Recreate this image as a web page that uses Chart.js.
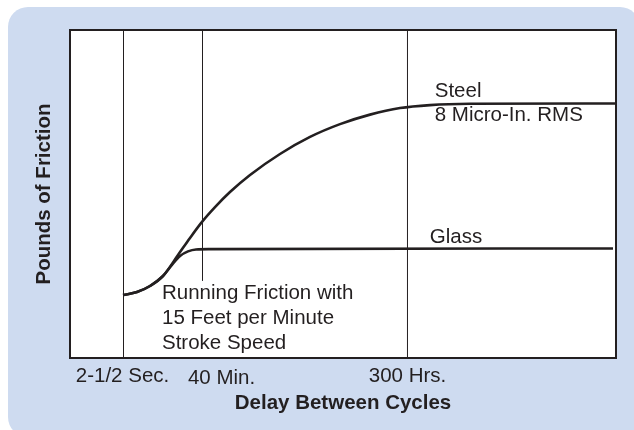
<!DOCTYPE html>
<html>
<head>
<meta charset="utf-8">
<script src="https://cdn.jsdelivr.net/npm/chart.js@4.4.1/dist/chart.umd.min.js"></script>
<style>
  html, body { margin: 0; padding: 0; background: #fff; }
  #wrap { position: relative; width: 634px; height: 430px; overflow: hidden; }
  #panel {
    position: absolute; left: 8px; top: 7px; width: 632px; height: 430px;
    background: #cedbf0; border-radius: 20px;
  }
  #frictionChart { position: absolute; left: 0; top: 0; }
</style>
</head>
<body>
<div id="wrap">
  <div id="panel"></div>
  <canvas id="frictionChart" width="634" height="430"></canvas>
</div>
<script>
// delay axis runs 0..100, friction axis 0..100 (relative units)
const cycleLabels = ['2-1/2 Sec.', '40 Min.', '300 Hrs.'];
const cyclePositions = [9.8, 24.27, 61.81];
const markerFrom = [0, 23.5, 0];
const markerTo = [100, 100, 100];

const steelX = [9.71, 12.27, 14.65, 17.03, 19.78, 21.98, 24.18, 26.56, 29.3, 32.97, 38.46, 43.96, 49.45, 54.95, 60.44, 65.93, 73.26, 100];
const steelY = [19.2, 20.1, 21.95, 25.0, 31.4, 36.6, 41.5, 46.0, 50.6, 55.8, 62.2, 67.4, 71.3, 74.2, 76.2, 77.1, 77.5, 77.6];

const glassX = [9.71, 12.27, 14.65, 17.03, 18.68, 20.15, 21.61, 23.08, 25.64, 99.45];
const glassY = [19.2, 20.1, 21.95, 25.0, 28.4, 31.1, 32.5, 33.1, 33.2, 33.4];

const INK = '#231f20';
const FONT = "'Liberation Sans', Arial, Helvetica, sans-serif";

function toPoints(xs, ys) {
    return xs.map((x, i) => ({x: x, y: ys[i]}));
}

// one thin vertical rule per delay marker
const markerSets = cyclePositions.map((x, i) => ({
    label: cycleLabels[i],
    data: [{x: x, y: markerFrom[i]}, {x: x, y: markerTo[i]}],
    borderColor: INK,
    borderWidth: 1,
    pointRadius: 0,
    tension: 0
}));

// curve captions, placed in axis units
const notes = [
    {text: 'Steel', x: 66.8, y: 81.4},
    {text: '8 Micro-In. RMS', x: 66.8, y: 74.1},
    {text: 'Glass', x: 65.9, y: 36.9},
    {text: 'Running Friction with', x: 16.85, y: 19.8},
    {text: '15 Feet per Minute', x: 16.85, y: 12.2},
    {text: 'Stroke Speed', x: 16.85, y: 4.6}
];
const tickNudge = [-1, 19, 0];

const plotFrame = {
    id: 'plotFrame',
    beforeDatasetsDraw(chart) {
        const {ctx, chartArea: a} = chart;
        ctx.save();
        ctx.fillStyle = '#fff';
        ctx.fillRect(a.left, a.top, a.width, a.height);
        ctx.restore();
    },
    afterDraw(chart) {
        const {ctx, chartArea: a, scales} = chart;
        ctx.save();
        ctx.strokeStyle = INK;
        ctx.lineWidth = 2;
        ctx.strokeRect(a.left, a.top, a.width, a.height);

        ctx.fillStyle = INK;
        ctx.font = '20.5px ' + FONT;
        ctx.textBaseline = 'middle';
        ctx.textAlign = 'left';
        notes.forEach(n => {
            ctx.fillText(n.text, scales.x.getPixelForValue(n.x), scales.y.getPixelForValue(n.y));
        });

        ctx.textAlign = 'center';
        cycleLabels.forEach((lbl, i) => {
            const px = scales.x.getPixelForValue(cyclePositions[i]) + tickNudge[i];
            ctx.fillText(lbl, px, a.bottom + 18 + (i === 1 ? 2 : 0));
        });
        ctx.restore();
    }
};

new Chart(document.getElementById('frictionChart'), {
    type: 'line',
    data: {
        datasets: [
            ...markerSets,
            {
                label: 'Steel',
                data: toPoints(steelX, steelY),
                borderColor: INK,
                borderWidth: 2.6,
                pointRadius: 0,
                cubicInterpolationMode: 'monotone'
            },
            {
                label: 'Glass',
                data: toPoints(glassX, glassY),
                borderColor: INK,
                borderWidth: 2.6,
                pointRadius: 0,
                cubicInterpolationMode: 'monotone'
            }
        ]
    },
    options: {
        responsive: false,
        animation: false,
        devicePixelRatio: 1,
        layout: {
            padding: {left: 20, top: 30, right: 18, bottom: 10}
        },
        scales: {
            x: {
                type: 'linear',
                min: 0,
                max: 100,
                grid: {display: false, drawTicks: false},
                border: {display: false},
                ticks: {display: false},
                title: {
                    display: true,
                    text: 'Delay Between Cycles',
                    color: INK,
                    font: {family: FONT, size: 20.5, weight: 'bold', lineHeight: '24px'},
                    padding: {top: 33, bottom: 5}
                }
            },
            y: {
                type: 'linear',
                min: 0,
                max: 100,
                grid: {display: false, drawTicks: false},
                border: {display: false},
                ticks: {display: false},
                title: {
                    display: true,
                    text: 'Pounds of Friction',
                    color: INK,
                    font: {family: FONT, size: 20.5, weight: 'bold', lineHeight: '24px'},
                    padding: {top: 12, bottom: 14}
                }
            }
        },
        plugins: {
            legend: {display: false},
            tooltip: {enabled: false}
        }
    },
    plugins: [plotFrame]
});
</script>
</body>
</html>
